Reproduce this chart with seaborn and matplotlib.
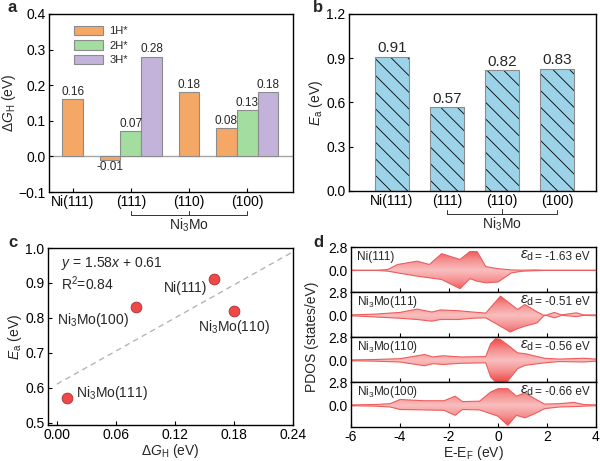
import numpy as np
import pandas as pd
import matplotlib
matplotlib.use("Agg")
import matplotlib.pyplot as plt
from matplotlib.patches import Patch, Rectangle
from matplotlib.colors import LinearSegmentedColormap
import seaborn as sns

# ---- panel a: hydrogen adsorption free energy ----
sites = ["Ni(111)", "(111)", "(110)", "(100)"]
h_cover = ["1H*", "2H*", "3H*"]
dG_1H = [0.16, -0.01, 0.18, 0.08]
dG_2H = [np.nan, 0.07, np.nan, 0.13]
dG_3H = [np.nan, 0.28, np.nan, 0.18]
h_colors = ["#F5A766", "#A3DDA0", "#C3B3DA"]

# ---- panel b: activation energy ----
Ea = [0.91, 0.57, 0.82, 0.83]

# ---- panel c: correlation ----
surf_names = ["Ni(111)", "Ni$_3$Mo(111)", "Ni$_3$Mo(110)", "Ni$_3$Mo(100)"]
dG_c = [0.16, 0.01, 0.18, 0.08]
Ea_c = [0.91, 0.57, 0.82, 0.83]
fit_slope = 1.58
fit_icpt = 0.61

# ---- panel d: spin-resolved d-band PDOS ----
pdos_names = ["Ni(111)", "Ni$_3$Mo(111)", "Ni$_3$Mo(110)", "Ni$_3$Mo(100)"]
eps_d = ["-1.63", "-0.51", "-0.56", "-0.66"]

E_ni111 = [-6, -5, -4.5, -4.1, -3.3, -2.8, -2.3, -1.55, -1.15, -0.85, -0.5, 0.0, 0.55, 1.0, 1.5, 2, 3, 4]
up_ni111 = [0, 0, 0.1, 0.7, 1.1, 0.7, 2.0, 1.3, 2.25, 2.25, 0.45, 0.2, 0.05, 0.02, 0.05, 0, 0, 0]
dn_ni111 = [0, 0, -0.1, -0.3, -0.7, -0.9, -1.1, -2.2, -1.0, -1.3, -1.5, -1.4, -0.3, -0.1, -0.05, 0, 0, 0]

E_m111 = [-6, -5, -4, -3.3, -2.7, -2.35, -1.6, -1.05, -0.5, 0.1, 0.5, 0.8, 1.1, 1.6, 1.9, 2.3, 2.6, 3.2, 3.5, 4]
up_m111 = [0.05, 0.15, 0.35, 0.75, 0.4, 0.65, 0.55, 0.4, 0.27, 2.3, 1.4, 0.7, 1.3, 0.4, -0.05, 0.35, 0.05, 0.3, 0.05, 0.05]
dn_m111 = [-0.05, -0.2, -0.35, -0.5, -0.7, -0.5, -0.5, -0.35, -0.3, -1.3, -2.0, -1.6, -1.3, -0.9, 0.05, -0.3, 0.0, -0.15, 0.0, -0.05]

E_m110 = [-6, -5, -4, -3.0, -2.65, -2.25, -1.5, -0.5, -0.3, -0.1, 0.1, 0.37, 0.8, 1.1, 1.9, 2.5, 3.5, 4]
up_m110 = [0.05, 0.1, 0.2, 0.7, 0.4, 0.55, 0.4, 0.45, 2.0, 2.6, 2.5, 1.9, 0.9, 0.8, 0.25, 0.15, 0.25, 0.15]
dn_m110 = [-0.05, -0.1, -0.2, -0.65, -0.4, -0.5, -0.35, -0.3, -2.0, -2.6, -2.6, -2.6, -1.0, -0.6, -0.3, -0.15, -0.2, -0.1]

E_m100 = [-6, -5, -4.4, -4.0, -3.0, -2.2, -1.75, -1.45, -0.75, -0.3, 0.0, 0.4, 0.75, 1.1, 1.5, 1.9, 2.5, 3.1, 3.5, 4]
up_m100 = [0.05, 0.1, 0.2, 0.7, 0.55, 0.55, 1.1, 0.45, 0.5, 1.6, 2.0, 2.0, 1.1, 1.5, 0.8, 0.15, 0.2, 0.35, 0.1, 0.05]
dn_m100 = [-0.05, -0.1, -0.2, -0.5, -0.55, -0.6, -1.2, -0.5, -0.55, -1.0, -1.3, -2.4, -1.2, -1.5, -1.0, -0.4, -0.2, -0.15, -0.1, -0.05]

pdos_E = [E_ni111, E_m111, E_m110, E_m100]
pdos_up = [up_ni111, up_m111, up_m110, up_m100]
pdos_dn = [dn_ni111, dn_m111, dn_m110, dn_m100]

sns.set_theme(style="ticks")
plt.rcParams["font.family"] = ["Liberation Sans", "DejaVu Sans"]
plt.rcParams.update({
    "mathtext.fontset": "custom",
    "mathtext.rm": "Liberation Sans",
    "mathtext.it": "Liberation Sans:italic",
    "mathtext.bf": "Liberation Sans:bold",
    "axes.edgecolor": "black",
    "axes.linewidth": 1.0,
    "xtick.direction": "in",
    "ytick.direction": "in",
    "xtick.major.size": 3,
    "ytick.major.size": 3,
    "xtick.major.width": 0.8,
    "ytick.major.width": 0.8,
    "xtick.major.pad": 2.5,
    "ytick.major.pad": 2.5,
    "xtick.color": "black",
    "ytick.color": "black",
    "xtick.labelsize": 10,
    "ytick.labelsize": 10,
    "axes.labelsize": 10,
    "hatch.linewidth": 0.6,
})

fig = plt.figure(figsize=(6, 4.61), dpi=100)
W, H = 600, 461


def px_axes(l, t, r, b):
    return fig.add_axes([l / W, 1 - b / H, (r - l) / W, (b - t) / H])


def bracket(ax, x0, x1, xm, label):
    tr = ax.get_xaxis_transform()
    ax.plot([x0, x0, x1, x1], [-0.108, -0.13, -0.13, -0.108], transform=tr,
            clip_on=False, color="#333333", lw=0.7)
    ax.plot([xm, xm], [-0.13, -0.104], transform=tr, clip_on=False, color="#333333", lw=0.7)
    ax.text(xm, -0.138, label, transform=tr, ha="center", va="top", fontsize=10)


# ================= a =================
ax_a = px_axes(49, 14, 293, 192)
bar_w = 0.36
rows = []
for i, site in enumerate(sites):
    vals = [dG_1H[i], dG_2H[i], dG_3H[i]]
    present = [k for k, v in enumerate(vals) if not np.isnan(v)]
    n = len(present)
    for j, k in enumerate(present):
        rows.append(dict(pos=i + (j - (n - 1) / 2) * bar_w, dG=vals[k], H=h_cover[k]))
df_a = pd.DataFrame(rows)
sns.barplot(data=df_a, x="pos", y="dG", hue="H", hue_order=h_cover, palette=h_colors,
            native_scale=True, dodge=False, width=1.0, saturation=1, errorbar=None,
            edgecolor="#8c8c8c", linewidth=0.8, legend=False, ax=ax_a)
for cont in ax_a.containers:
    ax_a.bar_label(cont, fmt="%.2f", padding=1, fontsize=8.5)
ax_a.axhline(0, color="#a6a6a6", lw=1.0, zorder=0)
ax_a.set_xlim(-0.41, 3.79)
ax_a.set_ylim(-0.1, 0.4)
ax_a.set_yticks(np.arange(-0.1, 0.41, 0.1))
ax_a.set_xticks(range(len(sites)))
ax_a.set_xticklabels(sites)
ax_a.set_xlabel("")
ax_a.set_ylabel(r"$\Delta G_\mathrm{H}$ (eV)", labelpad=0)
handles = [Patch(facecolor=c, edgecolor="#8c8c8c", lw=0.8) for c in h_colors]
ax_a.legend(handles, h_cover, loc="upper left", bbox_to_anchor=(0.06, 0.99), frameon=False,
            fontsize=8, handlelength=2.6, handleheight=0.95, labelspacing=0.35, handletextpad=0.6)
bracket(ax_a, 1, 3, 2, "Ni$_3$Mo")

# ================= b =================
ax_b = px_axes(349, 14, 596, 191)
df_b = pd.DataFrame({"site": sites, "Ea": Ea})
sns.barplot(data=df_b, x="site", y="Ea", color="#9DD3E8", saturation=1, width=0.62,
            errorbar=None, ax=ax_b)
for p in list(ax_b.patches):
    p.set_hatch("\\\\")
    p.set_edgecolor("black")
    p.set_linewidth(0)
    ax_b.add_patch(Rectangle(p.get_xy(), p.get_width(), p.get_height(), facecolor="none",
                             edgecolor="#8c8c8c", lw=0.8, zorder=p.get_zorder() + 0.1))
for cont in ax_b.containers:
    ax_b.bar_label(cont, fmt="%.2f", padding=1, fontsize=11)
ax_b.set_xlim(-0.78, 3.71)
ax_b.set_ylim(0, 1.2)
ax_b.set_yticks(np.arange(0, 1.21, 0.3))
ax_b.set_xlabel("")
ax_b.set_ylabel(r"$E_\mathrm{a}$ (eV)", labelpad=1)
bracket(ax_b, 1, 3, 2, "Ni$_3$Mo")

# ================= c =================
ax_c = px_axes(48, 248, 293, 425)
xfit = np.array([0.0, 0.24])
sns.lineplot(x=xfit, y=fit_slope * xfit + fit_icpt, color="#b5b5b5", lw=1.0,
             linestyle=(0, (4, 3)), ax=ax_c)
sns.scatterplot(x=dG_c, y=Ea_c, s=60, color="#F04848", edgecolor="#A83030", linewidth=0.6,
                zorder=3, ax=ax_c)
offsets = [(-5, -6.5, "right"), (7, 3.6, "left"), (0, -11.5, "center"), (-4.5, -9.4, "right")]
for name, x, y, (dx, dy, ha) in zip(surf_names, dG_c, Ea_c, offsets):
    ax_c.annotate(name, (x, y), xytext=(dx, dy), textcoords="offset points",
                  ha=ha, va="center", fontsize=10)
ax_c.text(0.053, 0.915, r"$y$ = 1.58$x$ + 0.61", transform=ax_c.transAxes, fontsize=10, va="center")
ax_c.text(0.053, 0.80, r"R$^2$=0.84", transform=ax_c.transAxes, fontsize=10, va="center")
ax_c.set_xlim(-0.009, 0.24)
ax_c.set_ylim(0.493, 1.0)
ax_c.set_xticks(np.arange(0, 0.241, 0.06))
ax_c.set_yticks(np.arange(0.5, 1.01, 0.1))
ax_c.xaxis.set_major_formatter(matplotlib.ticker.FormatStrFormatter("%.2f"))
ax_c.set_xlabel(r"$\Delta G_\mathrm{H}$ (eV)", labelpad=0)
ax_c.set_ylabel(r"$E_\mathrm{a}$ (eV)", labelpad=1)

# ================= d =================
pdos_cmap = LinearSegmentedColormap.from_list("pdos", ["#F9BEBE", "#F58E8E", "#EE4848"])
ygrid = np.linspace(-2.6, 2.8, 200)
grad = np.tile(np.clip(np.abs(ygrid) / 2.6, 0, 1)[:, None], (1, 2))
tops = [247, 292, 337, 382]
for k in range(4):
    ax = px_axes(351, tops[k], 596, tops[k] + 45)
    E = np.array(pdos_E[k])
    up = np.array(pdos_up[k])
    dn = np.array(pdos_dn[k])
    poly = ax.fill_between(E, up, dn, facecolor="none", edgecolor="none")
    img = ax.imshow(grad, extent=[-6, 4, -2.6, 2.8], origin="lower", aspect="auto",
                    cmap=pdos_cmap, vmin=0, vmax=1, zorder=1)
    img.set_clip_path(poly.get_paths()[0], transform=ax.transData)
    sns.lineplot(x=E, y=up, color="#EE5C5C", lw=0.8, ax=ax, zorder=2)
    sns.lineplot(x=E, y=dn, color="#EE5C5C", lw=0.8, ax=ax, zorder=2)
    ax.set_xlim(-6, 4)
    ax.set_ylim(-2.6, 2.8)
    ax.set_yticks([0.0, 2.8])
    ax.set_yticklabels(["0.0", "2.8"])
    ax.set_xticks(np.arange(-6, 4.1, 2))
    ax.text(0.025, 0.78, pdos_names[k], transform=ax.transAxes, fontsize=8.5, va="center")
    ax.text(0.975, 0.78, "= " + eps_d[k] + " eV", transform=ax.transAxes, fontsize=8.5,
            va="center", ha="right")
    ax.text(0.745, 0.80, r"$\varepsilon_\mathrm{d}$", transform=ax.transAxes, fontsize=11,
            va="center", ha="right")
    if k < 3:
        ax.tick_params(labelbottom=False)
    else:
        ax.xaxis.set_major_formatter(matplotlib.ticker.FormatStrFormatter("%d"))
        ax.set_xlabel(r"E-E$_\mathrm{F}$ (eV)", labelpad=0)

fig.text(312 / W, 1 - 337 / H, "PDOS (states/eV)", rotation=90, ha="center", va="center", fontsize=10)

# panel letters
for lab, x, y in [("a", 12, 8), ("b", 318, 8), ("c", 13, 242), ("d", 318, 242)]:
    fig.text(x / W, 1 - y / H, lab, fontsize=12, fontweight="bold", ha="center", va="center")

fig.savefig("out.png", dpi=100)
